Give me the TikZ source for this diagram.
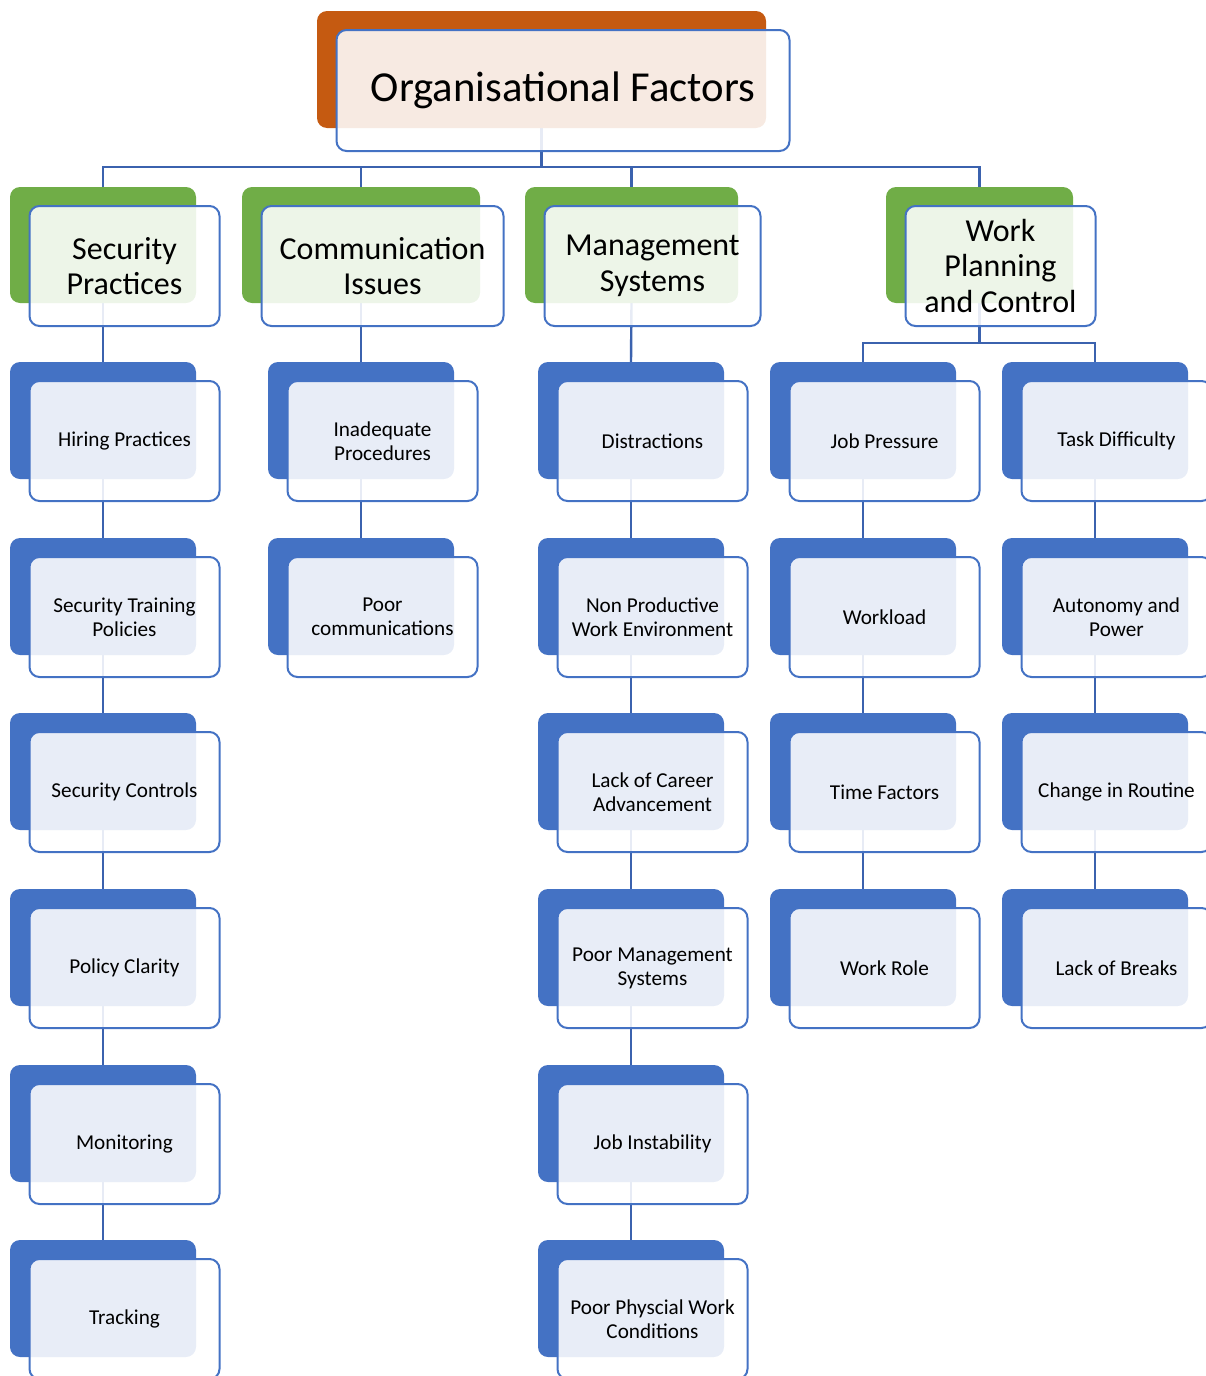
\documentclass[tikz,border=0pt]{standalone}
\usepackage{fontspec}
\setmainfont{Carlito}
\usetikzlibrary{calc}
\pgfdeclarelayer{bg}
\pgfsetlayers{bg,main}
\definecolor{corange}{HTML}{C55A11}
\definecolor{cgreen}{HTML}{70AD47}
\definecolor{cblue}{HTML}{4472C4}
\definecolor{cline}{HTML}{3B62AE}
\tikzset{
  backbox/.style={rectangle, rounded corners=10pt, draw=none, anchor=north west, inner sep=0pt, outer sep=0pt},
  frontbox/.style={rectangle, rounded corners=10pt, draw=cblue, line width=2pt, fill=white, fill opacity=0.88, text opacity=1, draw opacity=1, anchor=north west, inner sep=2pt, outer sep=0pt, align=center, text=black},
  bTop/.style={minimum width=449pt, minimum height=117pt},
  fTop/.style={minimum width=453pt, minimum height=121pt, font=\fontsize{42.7}{50}\selectfont},
  bL2/.style={minimum height=116pt},
  fL2/.style={minimum height=120pt, font=\fontsize{32}{35.5}\selectfont},
  bL3/.style={minimum width=186pt, minimum height=117pt},
  fL3/.style={minimum width=190pt, minimum height=120pt, font=\fontsize{21.2}{24}\selectfont},
  conn/.style={draw=cline, line width=2.4pt}
}
% #1 name, #2 x, #3 y, #4 back style, #5 front style, #6 colour, #7 text
\newcommand\blk[7]{%
  \node[backbox, fill=#6, #4] (#1-b) at (#2,#3) {};
  \node[frontbox, #5] (#1) at ({#2+19.5},{#3+19}) {#7};
}
\begin{document}
\begin{tikzpicture}[x=1pt,y=-1pt]
\useasboundingbox (0,0) rectangle (1206,1376);
% top
\blk{top}{317}{11}{bTop}{fTop}{corange}{Organisational Factors}
% level 2
\blk{sec}{10}{187}{bL2,minimum width=186pt}{fL2,minimum width=190pt}{cgreen}{Security\\Practices}
\blk{com}{242}{187}{bL2,minimum width=238pt}{fL2,minimum width=242pt}{cgreen}{Communication\\Issues}
\blk{mgt}{525}{187}{bL2,minimum width=213pt}{fL2,minimum width=216pt}{cgreen}{Management\\Systems}
\blk{wp}{886}{187}{bL2,minimum width=187pt}{fL2,minimum width=190pt}{cgreen}{Work\\Planning\\and Control}
% column 1
\blk{a1}{10}{362}{bL3}{fL3}{cblue}{Hiring Practices}
\blk{a2}{10}{538}{bL3}{fL3}{cblue}{Security Training\\Policies}
\blk{a3}{10}{713}{bL3}{fL3}{cblue}{Security Controls}
\blk{a4}{10}{889}{bL3}{fL3}{cblue}{Policy Clarity}
\blk{a5}{10}{1065}{bL3}{fL3}{cblue}{Monitoring}
\blk{a6}{10}{1240}{bL3}{fL3}{cblue}{Tracking}
% column 2
\blk{b1}{268}{362}{bL3}{fL3}{cblue}{Inadequate\\Procedures}
\blk{b2}{268}{538}{bL3}{fL3}{cblue}{Poor\\communications}
% column 3
\blk{c1}{538}{362}{bL3}{fL3}{cblue}{Distractions}
\blk{c2}{538}{538}{bL3}{fL3}{cblue}{Non Productive\\Work Environment}
\blk{c3}{538}{713}{bL3}{fL3}{cblue}{Lack of Career\\Advancement}
\blk{c4}{538}{889}{bL3}{fL3}{cblue}{Poor Management\\Systems}
\blk{c5}{538}{1065}{bL3}{fL3}{cblue}{Job Instability}
\blk{c6}{538}{1240}{bL3}{fL3}{cblue}{Poor Physcial Work\\Conditions}
% column 4
\blk{d1}{770}{362}{bL3}{fL3}{cblue}{Job Pressure}
\blk{d2}{770}{538}{bL3}{fL3}{cblue}{Workload}
\blk{d3}{770}{713}{bL3}{fL3}{cblue}{Time Factors}
\blk{d4}{770}{889}{bL3}{fL3}{cblue}{Work Role}
% column 5
\blk{e1}{1002}{362}{bL3}{fL3}{cblue}{Task Difficulty}
\blk{e2}{1002}{538}{bL3}{fL3}{cblue}{Autonomy and\\Power}
\blk{e3}{1002}{713}{bL3}{fL3}{cblue}{Change in Routine}
\blk{e4}{1002}{889}{bL3}{fL3}{cblue}{Lack of Breaks}
% connectors
\coordinate (bus) at (541.5,167);
\coordinate (wpbus) at (979.5,343);
\begin{pgfonlayer}{bg}
  \draw[conn] (top-b.south) -- (bus) -| (sec-b.north);
  \draw[conn] (bus) -| (com-b.north);
  \draw[conn] (bus) -| (mgt-b.north);
  \draw[conn] (bus) -| (wp-b.north);
  \draw[conn] (sec-b.south) -- (a1-b.north);
  \draw[conn] (a1-b.south) -- (a2-b.north);
  \draw[conn] (a2-b.south) -- (a3-b.north);
  \draw[conn] (a3-b.south) -- (a4-b.north);
  \draw[conn] (a4-b.south) -- (a5-b.north);
  \draw[conn] (a5-b.south) -- (a6-b.north);
  \draw[conn] (com-b.south) -- (b1-b.north);
  \draw[conn] (b1-b.south) -- (b2-b.north);
  \draw[conn] (mgt-b.south) -- (c1-b.north);
  \draw[conn] (c1-b.south) -- (c2-b.north);
  \draw[conn] (c2-b.south) -- (c3-b.north);
  \draw[conn] (c3-b.south) -- (c4-b.north);
  \draw[conn] (c4-b.south) -- (c5-b.north);
  \draw[conn] (c5-b.south) -- (c6-b.north);
  \draw[conn] (wp-b.south) -- (wpbus) -| (d1-b.north);
  \draw[conn] (wpbus) -| (e1-b.north);
  \draw[conn] (d1-b.south) -- (d2-b.north);
  \draw[conn] (d2-b.south) -- (d3-b.north);
  \draw[conn] (d3-b.south) -- (d4-b.north);
  \draw[conn] (e1-b.south) -- (e2-b.north);
  \draw[conn] (e2-b.south) -- (e3-b.north);
  \draw[conn] (e3-b.south) -- (e4-b.north);
\end{pgfonlayer}
\end{tikzpicture}
\end{document}
